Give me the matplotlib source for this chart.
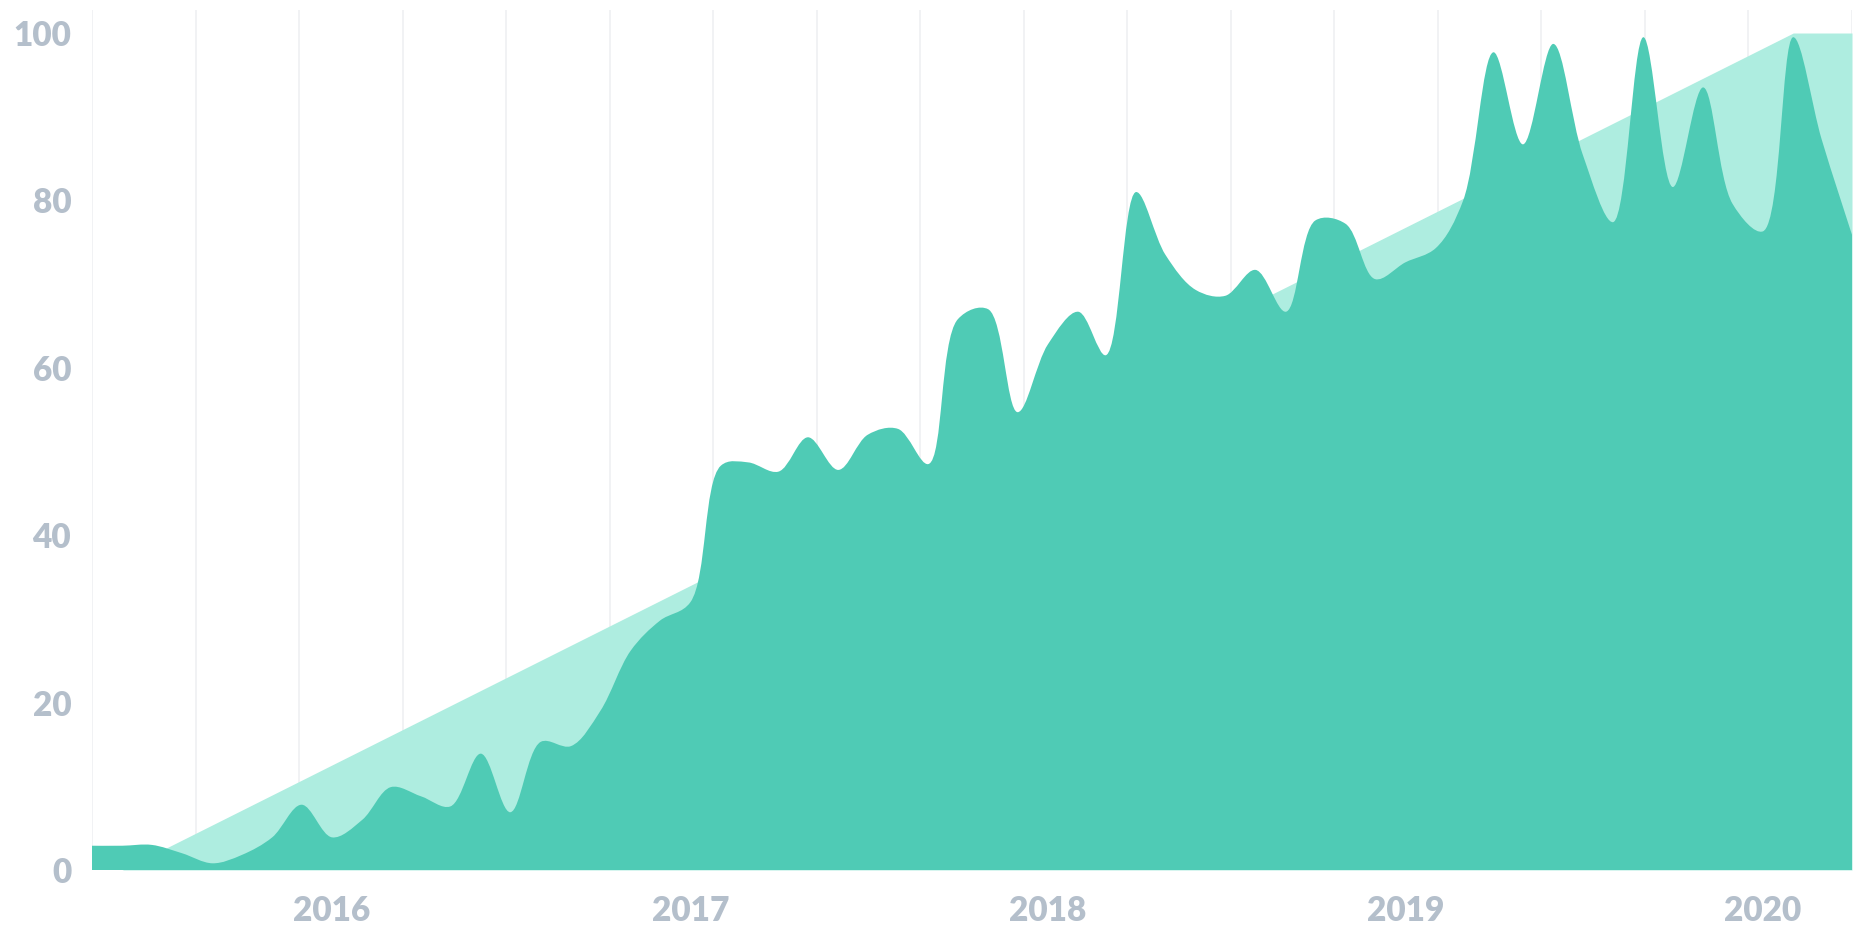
import numpy as np
import matplotlib
matplotlib.use("Agg")
import matplotlib.pyplot as plt
import matplotlib.dates as mdates
from matplotlib.path import Path
from matplotlib.patches import PathPatch

# monthly values, 2015-05 .. 2020-04
months = np.arange("2015-05", "2020-05", dtype="datetime64[M]").astype("datetime64[D]")
values = [
    2.9, 2.9, 3.0, 2.0, 0.8, 1.8, 3.9, 7.8,                        # 2015
    3.9, 6.0, 9.9, 8.8, 7.6, 13.9, 6.9, 15.3, 14.8, 19.0, 26.2, 29.8,  # 2016
    32.0, 48.3, 48.7, 47.6, 51.7, 47.8, 52.0, 52.7, 48.5, 65.8, 67.0, 54.7,  # 2017
    62.8, 66.7, 61.5, 81.0, 73.5, 69.3, 68.6, 71.7, 66.7, 77.6, 77.2, 70.6,  # 2018
    72.6, 74.3, 80.0, 97.7, 86.7, 98.7, 85.5, 77.4, 99.5, 81.6, 93.5, 79.6,  # 2019
    76.3, 99.5, 87.3, 75.9,                                        # 2020
]

# straight "target" band behind the curve (its corner points)
target_dates = np.array(["2015-05-01", "2015-06-01", "2020-02-01", "2020-04-01"],
                        dtype="datetime64[D]")
target_values = [0, 0, 100, 100]

y_ticks = [0, 20, 40, 60, 80, 100]

DARK = "#4FCBB5"
LIGHT = "#AEEDE0"
LABEL = "#B4BFCB"


def catmull_rom(pts, alpha=0.5):
    """bezier control points of a centripetal catmull-rom (as d3.curveCatmullRom)"""
    verts = [pts[0]]
    n = len(pts)
    for i in range(n - 1):
        p0 = pts[max(i - 1, 0)]
        p1, p2 = pts[i], pts[i + 1]
        p3 = pts[min(i + 2, n - 1)]
        l01 = np.hypot(*(p1 - p0))
        l12 = np.hypot(*(p2 - p1))
        l23 = np.hypot(*(p3 - p2))
        l01a, l12a, l23a = l01**alpha, l12**alpha, l23**alpha
        l01_2a, l12_2a, l23_2a = l01a**2, l12a**2, l23a**2
        c1, c2 = p1.copy(), p2.copy()
        if l01a > 1e-9:
            a = 2 * l01_2a + 3 * l01a * l12a + l12_2a
            m = 3 * l01a * (l01a + l12a)
            c1 = (p1 * a - p0 * l12_2a + p2 * l01_2a) / m
        if l23a > 1e-9:
            b = 2 * l23_2a + 3 * l23a * l12a + l12_2a
            m = 3 * l23a * (l23a + l12a)
            c2 = (p2 * b + p1 * l23_2a - p3 * l12_2a) / m
        verts += [c1, c2, p2]
    return np.array(verts)


fig = plt.figure(figsize=(18.68, 9.40), dpi=100)
ax = fig.add_axes([92 / 1868, 70 / 940, 1760 / 1868, 860 / 940])

x_num = mdates.date2num(months)
ax.set_xlim(x_num[0], x_num[-1])
ax.set_ylim(0, 102.75)

ax.fill_between(mdates.date2num(target_dates), target_values, 0,
                color=LIGHT, lw=0, zorder=2)

# smooth the curve in screen space, then go back to data space
pix = ax.transData.transform(np.column_stack([x_num, values]))
ctrl = ax.transData.inverted().transform(catmull_rom(pix))
verts = np.vstack([ctrl, [[x_num[-1], 0], [x_num[0], 0], ctrl[0]]])
codes = [Path.MOVETO] + [Path.CURVE4] * (len(ctrl) - 1) + [Path.LINETO, Path.LINETO, Path.CLOSEPOLY]
ax.add_patch(PathPatch(Path(verts, codes), facecolor=DARK, lw=0, zorder=3))

ax.xaxis.set_major_locator(mdates.YearLocator())
ax.xaxis.set_major_formatter(mdates.DateFormatter("%Y"))
ax.set_xticks(np.linspace(x_num[0], x_num[-1], 18), minor=True)
ax.grid(which="minor", axis="x", color="#F0F1F3", lw=1.3, zorder=0)
ax.set_yticks(y_ticks)

for sp in ax.spines.values():
    sp.set_visible(False)
ax.tick_params(which="both", length=0)
ax.tick_params(axis="x", pad=18)
ax.tick_params(axis="y", pad=15)
for lab in ax.get_xticklabels() + ax.get_yticklabels():
    lab.set_fontfamily("Lato")
    lab.set_fontweight("heavy")
    lab.set_fontsize(24)
    lab.set_color(LABEL)

fig.savefig("out.png", dpi=100)
